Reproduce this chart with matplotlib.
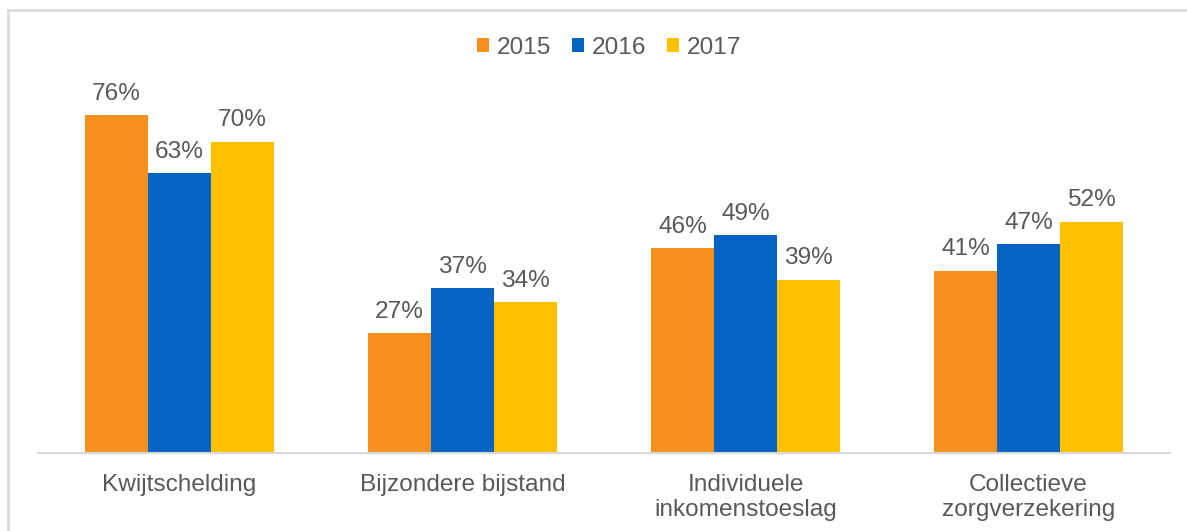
import matplotlib.pyplot as plt
import numpy as np
from matplotlib.lines import Line2D

plt.rcParams['font.family'] = ['Liberation Sans', 'DejaVu Sans']

categories = ['Kwijtschelding', 'Bijzondere bijstand', 'Individuele\ninkomenstoeslag', 'Collectieve\nzorgverzekering']
years = ['2015', '2016', '2017']
values_2015 = [76, 27, 46, 41]
values_2016 = [63, 37, 49, 47]
values_2017 = [70, 34, 39, 52]
colors = ['#F7901E', '#0563C1', '#FFC000']
text_color = '#595959'

fig = plt.figure(figsize=(11.87, 5.31), dpi=100)
ax = fig.add_axes([38 / 1187, 1 - 453 / 531, (1170 - 38) / 1187, (453 - 8.3) / 531])

# grey frame around the chart (top and left edges visible)
fig.add_artist(Line2D([8 / 1187, 1], [1 - 10 / 531, 1 - 10 / 531], color='#D9D9D9', lw=2))
fig.add_artist(Line2D([8 / 1187, 8 / 1187], [0, 1 - 10 / 531], color='#D9D9D9', lw=2))

x = np.arange(len(categories))
w = 0.2225
series = [values_2015, values_2016, values_2017]
for i, (vals, c, yr) in enumerate(zip(series, colors, years)):
    bars = ax.bar(x + (i - 1) * w, vals, w, color=c, label=yr)
    for b, v in zip(bars, vals):
        ax.annotate(f'{v}%', (b.get_x() + b.get_width() / 2, v), xytext=(0, 11),
                    textcoords='offset points', ha='center', va='baseline',
                    fontsize=17.6, color=text_color)

ax.set_xlim(-0.5, 3.5)
ax.set_ylim(0, 100)
ax.set_yticks([])
ax.set_xticks(x)
ax.set_xticklabels(categories, fontsize=17.6, color=text_color, linespacing=1.2)
ax.tick_params(axis='x', length=0, pad=15)
for s in ['top', 'right', 'left']:
    ax.spines[s].set_visible(False)
ax.spines['bottom'].set_color('#D9D9D9')
ax.spines['bottom'].set_linewidth(1.5)

leg = ax.legend(loc='center', bbox_to_anchor=(609 / 1187, 1 - 48 / 531), bbox_transform=fig.transFigure,
                ncol=3, frameon=False, fontsize=17.6, handlelength=0.5, handleheight=0.5,
                handletextpad=0.3, columnspacing=0.85, labelcolor=text_color)

fig.savefig('out.png', dpi=100)
